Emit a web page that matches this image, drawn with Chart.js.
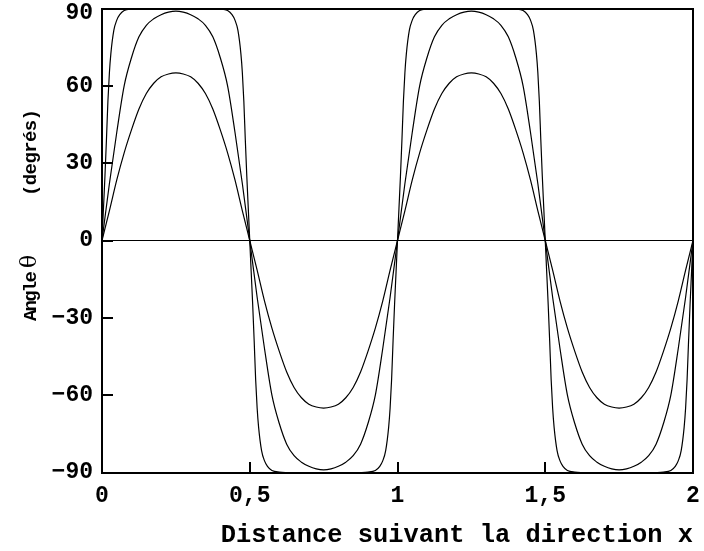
<!DOCTYPE html>
<html>
<head>
<meta charset="utf-8">
<script src="https://cdn.jsdelivr.net/npm/chart.js@4.4.1/dist/chart.umd.min.js"></script>
<style>
    html, body { margin: 0; padding: 0; background: #fff; }
</style>
</head>
<body>
<canvas id="chart" width="704" height="551"></canvas>
<script>
// ===============================
// DONNEES
// ===============================
const xTickValues = [0, 0.5, 1, 1.5, 2];
const yTickValues = [-90, -60, -30, 0, 30, 60, 90];

// abscisses communes aux courbes A et B (pas de 0,025)
const xAB = [0,0.025,0.05,0.075,0.1,0.125,0.15,0.175,0.2,0.225,0.25,0.275,0.3,0.325,0.35,0.375,0.4,0.425,0.45,0.475,
    0.5,0.525,0.55,0.575,0.6,0.625,0.65,0.675,0.7,0.725,0.75,0.775,0.8,0.825,0.85,0.875,0.9,0.925,0.95,0.975,
    1,1.025,1.05,1.075,1.1,1.125,1.15,1.175,1.2,1.225,1.25,1.275,1.3,1.325,1.35,1.375,1.4,1.425,1.45,1.475,
    1.5,1.525,1.55,1.575,1.6,1.625,1.65,1.675,1.7,1.725,1.75,1.775,1.8,1.825,1.85,1.875,1.9,1.925,1.95,1.975,2];

// courbe A : amplitude ~65°
const thetaA = [0,11.5,23.5,34,43,51,57,61,63.5,64.6,65,64.6,63.5,61,57,51,43,34,23.5,11.5,
    0,-11.5,-23.5,-34,-43,-51,-57,-61,-63.5,-64.6,-65,-64.6,-63.5,-61,-57,-51,-43,-34,-23.5,-11.5,
    0,11.5,23.5,34,43,51,57,61,63.5,64.6,65,64.6,63.5,61,57,51,43,34,23.5,11.5,
    0,-11.5,-23.5,-34,-43,-51,-57,-61,-63.5,-64.6,-65,-64.6,-63.5,-61,-57,-51,-43,-34,-23.5,-11.5,0];

// courbe B : amplitude ~89°
const thetaB = [0,22,42,60,71,79,83.5,86,87.6,88.6,89,88.6,87.6,86,83.5,79,71,60,42,22,
    0,-22,-42,-60,-71,-79,-83.5,-86,-87.6,-88.6,-89,-88.6,-87.6,-86,-83.5,-79,-71,-60,-42,-22,
    0,22,42,60,71,79,83.5,86,87.6,88.6,89,88.6,87.6,86,83.5,79,71,60,42,22,
    0,-22,-42,-60,-71,-79,-83.5,-86,-87.6,-88.6,-89,-88.6,-87.6,-86,-83.5,-79,-71,-60,-42,-22,0];

// courbe C : presque carree, echantillonnage plus fin pres des passages a zero
const xC = [0,0.005,0.01,0.015,0.02,0.025,0.03,0.04,0.05,0.06,0.075,0.1,0.15,0.2,0.25,
    0.3,0.35,0.4,0.425,0.44,0.45,0.46,0.47,0.475,0.48,0.485,0.49,0.495,0.5,
    0.505,0.51,0.515,0.52,0.525,0.53,0.54,0.55,0.56,0.575,0.6,0.65,0.7,0.75,
    0.8,0.85,0.9,0.925,0.94,0.95,0.96,0.97,0.975,0.98,0.985,0.99,0.995,1,
    1.005,1.01,1.015,1.02,1.025,1.03,1.04,1.05,1.06,1.075,1.1,1.15,1.2,1.25,
    1.3,1.35,1.4,1.425,1.44,1.45,1.46,1.47,1.475,1.48,1.485,1.49,1.495,1.5,
    1.505,1.51,1.515,1.52,1.525,1.53,1.54,1.55,1.56,1.575,1.6,1.65,1.7,1.75,
    1.8,1.85,1.9,1.925,1.94,1.95,1.96,1.97,1.975,1.98,1.985,1.99,1.995,2];
const thetaC = [0,12.5,25,39,54,65,72.5,81.5,85.5,87.6,89.2,89.8,90,90,90,
    90,90,89.8,89.2,87.6,85.5,81.5,72.5,65,54,39,25,12.5,0,
    -12.5,-25,-39,-54,-65,-72.5,-81.5,-85.5,-87.6,-89.2,-89.8,-90,-90,-90,
    -90,-90,-89.8,-89.2,-87.6,-85.5,-81.5,-72.5,-65,-54,-39,-25,-12.5,0,
    12.5,25,39,54,65,72.5,81.5,85.5,87.6,89.2,89.8,90,90,90,
    90,90,89.8,89.2,87.6,85.5,81.5,72.5,65,54,39,25,12.5,0,
    -12.5,-25,-39,-54,-65,-72.5,-81.5,-85.5,-87.6,-89.2,-89.8,-90,-90,-90,
    -90,-90,-89.8,-89.2,-87.6,-85.5,-81.5,-72.5,-65,-54,-39,-25,-12.5,0];

// axe horizontal theta = 0
const xZero = [0, 2];
const yZero = [0, 0];

const xTitle = "Distance suivant la direction x";
const yTitleParts = ["Angle", "θ", "(degrés)"];

// ===============================
// CONSTRUCTION
// ===============================
const pts = (xs, ys) => xs.map((x, i) => ({ x, y: ys[i] }));

const curve = (data, width) => ({
    data,
    borderColor: "#000",
    borderWidth: width,
    pointRadius: 0,
    fill: false,
    cubicInterpolationMode: "monotone"
});

const MONO = "'Liberation Mono', 'DejaVu Sans Mono', monospace";

const noPad = (s) => {
    s.paddingTop = 0;
    s.paddingBottom = 0;
    s.paddingLeft = 0;
    s.paddingRight = 0;
};

// cadre, graduations internes et titre vertical
const framePlugin = {
    id: "framePlugin",
    afterDatasetsDraw(chart) {
        const { ctx, chartArea: a, scales: { x, y } } = chart;
        const L = Math.round(a.left), R = Math.round(a.right);
        const T = Math.round(a.top), B = Math.round(a.bottom);
        ctx.save();
        ctx.strokeStyle = "#000";
        ctx.lineWidth = 2;
        ctx.strokeRect(L, T, R - L, B - T);

        ctx.beginPath();
        yTickValues.forEach((v) => {
            const py = Math.round(y.getPixelForValue(v));
            ctx.moveTo(L, py);
            ctx.lineTo(L + 11, py);
        });
        xTickValues.forEach((v) => {
            const px = Math.round(x.getPixelForValue(v));
            ctx.moveTo(px, B);
            ctx.lineTo(px, B - 11);
        });
        ctx.stroke();

        // titre vertical, de bas en haut
        ctx.translate(31, 0);
        ctx.rotate(-Math.PI / 2);
        ctx.fillStyle = "#000";
        ctx.textBaseline = "middle";
        ctx.textAlign = "left";
        ctx.font = "bold 19px " + MONO;
        ctx.letterSpacing = "-1.8px";
        ctx.fillText(yTitleParts[0], -321, 0);
        ctx.letterSpacing = "0px";
        ctx.font = "22px 'DejaVu Serif', serif";
        ctx.fillText(yTitleParts[1], -268, -1);
        ctx.font = "bold 19px " + MONO;
        ctx.letterSpacing = "-0.6px";
        ctx.fillText(yTitleParts[2], -196, 0);
        ctx.restore();
    }
};

new Chart(document.getElementById("chart"), {
    type: "line",
    data: {
        datasets: [
            curve(pts(xZero, yZero), 1),
            curve(pts(xAB, thetaA), 1.2),
            curve(pts(xAB, thetaB), 1.2),
            curve(pts(xC, thetaC), 1.2)
        ]
    },
    options: {
        responsive: false,
        animation: false,
        layout: { padding: { left: 0, right: 11, top: 8.5, bottom: 0 } },
        plugins: { legend: { display: false }, tooltip: { enabled: false } },
        scales: {
            x: {
                type: "linear",
                min: 0,
                max: 2,
                afterBuildTicks: (s) => { s.ticks = xTickValues.map((v) => ({ value: v })); },
                afterFit: (s) => { s.height = 78.5; noPad(s); },
                grid: { display: false, drawTicks: false },
                border: { display: false },
                ticks: {
                    color: "#000",
                    padding: 10,
                    maxRotation: 0,
                    font: { family: MONO, size: 23, weight: "bold" },
                    callback: (v) => String(v).replace(".", ",")
                },
                title: {
                    display: true,
                    text: xTitle,
                    align: "end",
                    color: "#000",
                    padding: { top: 0, bottom: 0 },
                    font: { family: MONO, size: 25.4, weight: "bold" }
                }
            },
            y: {
                min: -90,
                max: 90,
                afterBuildTicks: (s) => { s.ticks = yTickValues.map((v) => ({ value: v })); },
                afterFit: (s) => { s.width = 102; noPad(s); },
                grid: { display: false, drawTicks: false },
                border: { display: false },
                ticks: {
                    color: "#000",
                    padding: 9,
                    // l'etiquette du haut est descendue pour rester dans la fenetre
                    font: (c) => ({
                        family: MONO, size: 23, weight: "bold",
                        lineHeight: c.tick && c.tick.value === 90 ? 0.45 : 1.2
                    }),
                    callback: (v) => {
                        if (v === 90) return ["", "90"];
                        return v < 0 ? "\u2212" + Math.abs(v) : String(v);
                    }
                }
            }
        }
    },
    plugins: [framePlugin]
});
</script>
</body>
</html>
